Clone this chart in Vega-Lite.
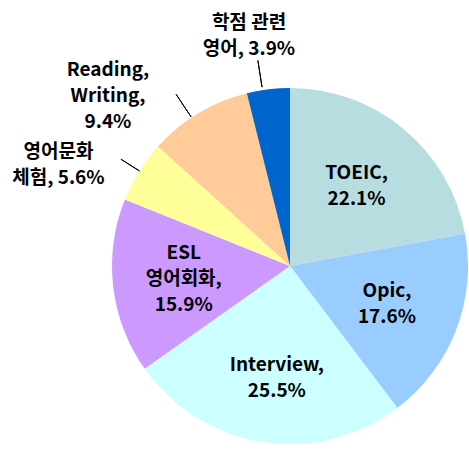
{
  "$schema": "https://vega.github.io/schema/vega-lite/v6.json",
  "autosize": "none",
  "width": 356,
  "height": 356,
  "padding": {"left": 112, "top": 88, "right": 0, "bottom": 0},
  "background": "white",
  "config": {"view": {"stroke": null}, "text": {"font": "Noto Sans CJK KR", "fontSize": 19, "fontWeight": "bold", "color": "black", "lineBreak": "\n", "lineHeight": 26}},
  "data": {"values": [
    {"cat": "TOEIC", "value": 22.1, "o": 1, "label": "TOEIC,\n22.1%"},
    {"cat": "Opic", "value": 17.6, "o": 2, "label": "Opic,\n17.6%"},
    {"cat": "Interview", "value": 25.5, "o": 3, "label": "Interview,\n25.5%"},
    {"cat": "ESL 영어회화", "value": 15.9, "o": 4, "label": "ESL\n영어회화,\n15.9%"},
    {"cat": "영어문화 체험", "value": 5.6, "o": 5, "label": "영어문화\n체험, 5.6%"},
    {"cat": "Reading, Writing", "value": 9.4, "o": 6, "label": "Reading,\nWriting,\n9.4%"},
    {"cat": "학점 관련 영어", "value": 3.9, "o": 7, "label": "학점 관련\n영어, 3.9%"}
  ]},
  "layer": [
    {
      "mark": {"type": "arc", "outerRadius": 178},
      "encoding": {
        "theta": {"field": "value", "type": "quantitative", "stack": true},
        "order": {"field": "o", "type": "quantitative"},
        "color": {"field": "cat", "type": "nominal", "legend": null,
          "scale": {"domain": ["TOEIC", "Opic", "Interview", "ESL 영어회화", "영어문화 체험", "Reading, Writing", "학점 관련 영어"],
                    "range": ["#B7DDE0", "#99CCFF", "#CCFFFF", "#CC99FF", "#FFFF99", "#FFCC99", "#0066CC"]}}
      }
    },
    {
      "mark": {"type": "text", "radius": 104, "dy": -13},
      "encoding": {
        "theta": {"field": "value", "type": "quantitative", "stack": true},
        "order": {"field": "o", "type": "quantitative"},
        "detail": {"field": "cat", "type": "nominal"},
        "text": {"condition": {"test": "datum.o <= 2", "field": "label"}, "value": ""}
      }
    },
    {
      "mark": {"type": "text", "radius": 112, "dx": 4, "dy": -12},
      "encoding": {
        "theta": {"field": "value", "type": "quantitative", "stack": true},
        "order": {"field": "o", "type": "quantitative"},
        "detail": {"field": "cat", "type": "nominal"},
        "text": {"condition": {"test": "datum.o == 3", "field": "label"}, "value": ""}
      }
    },
    {
      "mark": {"type": "text", "radius": 107, "dy": -25},
      "encoding": {
        "theta": {"field": "value", "type": "quantitative", "stack": true},
        "order": {"field": "o", "type": "quantitative"},
        "detail": {"field": "cat", "type": "nominal"},
        "text": {"condition": {"test": "datum.o == 4", "field": "label"}, "value": ""}
      }
    },
    {
      "transform": [
        {"stack": "value", "groupby": [], "sort": [{"field": "o", "order": "ascending"}], "as": ["s0", "s1"]},
        {"filter": "datum.o == 7"}
      ],
      "layer": [
        {
          "mark": {"type": "text", "radius": 235, "dx": 16, "dy": -15},
          "encoding": {"theta": {"field": "s0", "type": "quantitative", "stack": null}, "text": {"field": "label"}}
        },
        {
          "mark": {"type": "arc", "radius": 208, "radius2": 181, "thetaOffset": 0.09, "theta2Offset": 0.09, "fill": "transparent", "stroke": "black", "strokeWidth": 1},
          "encoding": {"theta": {"field": "s0", "type": "quantitative", "stack": null}, "theta2": {"field": "s0"}}
        }
      ]
    },
    {
      "transform": [
        {"stack": "value", "groupby": [], "sort": [{"field": "o", "order": "ascending"}], "as": ["s0", "s1"]},
        {"filter": "datum.o == 6"}
      ],
      "layer": [
        {
          "mark": {"type": "text", "radius": 240, "dx": -4, "dy": -35},
          "encoding": {"theta": {"field": "s0", "type": "quantitative", "stack": null}, "text": {"field": "label"}}
        },
        {
          "mark": {"type": "arc", "radius": 206, "radius2": 179, "thetaOffset": 0.25, "theta2Offset": 0.25, "fill": "transparent", "stroke": "black", "strokeWidth": 1},
          "encoding": {"theta": {"field": "s0", "type": "quantitative", "stack": null}, "theta2": {"field": "s0"}}
        }
      ]
    },
    {
      "transform": [
        {"stack": "value", "groupby": [], "sort": [{"field": "o", "order": "ascending"}], "as": ["s0", "s1"]},
        {"filter": "datum.o == 5"}
      ],
      "layer": [
        {
          "mark": {"type": "text", "radius": 240, "dx": -9, "dy": -24},
          "encoding": {"theta": {"field": "s0", "type": "quantitative", "stack": null}, "text": {"field": "label"}}
        },
        {
          "mark": {"type": "arc", "radius": 200, "radius2": 178, "thetaOffset": 0.18, "theta2Offset": 0.18, "fill": "transparent", "stroke": "black", "strokeWidth": 1},
          "encoding": {"theta": {"field": "s0", "type": "quantitative", "stack": null}, "theta2": {"field": "s0"}}
        }
      ]
    }
  ]
}
